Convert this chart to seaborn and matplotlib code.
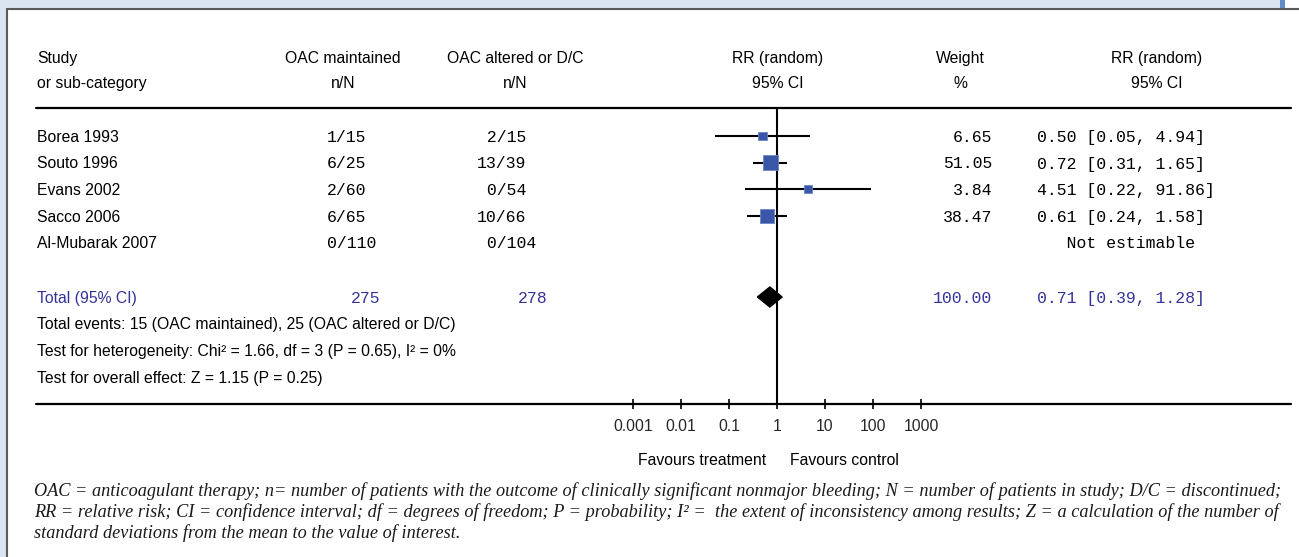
import matplotlib
matplotlib.use("Agg")
import matplotlib.pyplot as plt
import seaborn as sns
import pandas as pd
from matplotlib.patches import Rectangle

# ---------------- data ----------------
studies = ["Borea 1993", "Souto 1996", "Evans 2002", "Sacco 2006", "Al-Mubarak 2007"]
maint_n = [1, 6, 2, 6, 0]
maint_N = [15, 25, 60, 65, 110]
alt_n = [2, 13, 0, 10, 0]
alt_N = [15, 39, 54, 66, 104]
weights = [6.65, 51.05, 3.84, 38.47, None]
rr = [0.50, 0.72, 4.51, 0.61, None]
ci_low = [0.05, 0.31, 0.22, 0.24, None]
ci_high = [4.94, 1.65, 91.86, 1.58, None]
total_maint = 275
total_alt = 278
total_weight = 100.00
total_rr = 0.71
total_low = 0.39
total_high = 1.28
events_maint = 15
events_alt = 25
chi2, het_df, p_het, i2 = 1.66, 3, 0.65, 0
z_val, p_z = 1.15, 0.25
tick_values = [0.001, 0.01, 0.1, 1, 10, 100, 1000]
tick_labels = ["0.001", "0.01", "0.1", "1", "10", "100", "1000"]
footnote = [
    "OAC = anticoagulant therapy; n= number of patients with the outcome of clinically significant nonmajor bleeding; N = number of patients in study; D/C = discontinued;",
    "RR = relative risk; CI = confidence interval; df = degrees of freedom; P = probability; I\u00b2 =  the extent of inconsistency among results; Z = a calculation of the number of",
    "standard deviations from the mean to the value of interest.",
]

# ---------------- layout (pixels) ----------------
W, H = 1299, 557
row_y = [136, 162.5, 189, 216, 242.5]
total_y = 297
info_y = [323, 350, 377]
head_y = [57, 82]
top_line_y, bot_line_y = 108, 404
x_study = 37
x_maint_c, x_alt_c = 343, 515
x_maint_left, x_alt_left = 327, 477
x_rr_c, x_w_c, x_ci_c = 778, 960, 1157
x_w_right = 992
x_ci_left = 1037
ax_x0, ax_x1 = 633, 921  # pixel position of 0.001 and 1000

SANS = "Liberation Sans"
MONO = "Liberation Mono"
SERIF = "Liberation Serif"
BLUE_TXT = "#333399"
SQ_COL = "#3a56a6"

sns.set_theme(style="white")
plt.rcParams["font.family"] = [SANS, "DejaVu Sans"]

fig = plt.figure(figsize=(W / 100, H / 100), dpi=100)
fig.patch.set_facecolor("white")
ax0 = fig.add_axes([0, 0, 1, 1])
ax0.set_xlim(0, W)
ax0.set_ylim(H, 0)
ax0.axis("off")

# frame decoration
ax0.add_patch(Rectangle((0, 0), 1280, 8.5, color="#dbe5f1", lw=0))
ax0.add_patch(Rectangle((0, 0), 7, H, color="#dbe5f1", lw=0))
ax0.add_patch(Rectangle((1280, 0), 5, 8.5, color="#5f8cc8", lw=0))
ax0.plot([7.5, 7.5], [8.5, H], color="#5a5a5a", lw=1.5)
ax0.plot([7.5, W], [8.5, 8.5], color="#5a5a5a", lw=1.5)

# full-width rules
ax0.plot([36, 1291], [top_line_y, top_line_y], color="black", lw=1.6)
ax0.plot([36, 1291], [bot_line_y, bot_line_y], color="black", lw=1.6)

renderer = fig.canvas.get_renderer()

def fit_size(text, family, target, style="normal"):
    t = fig.text(0, 0, text, fontsize=10, family=family, style=style)
    w = t.get_window_extent(renderer).width
    t.remove()
    return 10 * target / w

fs_sans = fit_size("Total events: 15 (OAC maintained), 25 (OAC altered or D/C)", SANS, 418)
fs_foot = fit_size(footnote[0], SERIF, 1247, style="italic")
fs_mono = 11.9

def stxt(x, y, s, ha="left", color="black", fam=SANS, size=None, **kw):
    ax0.text(x, y, s, ha=ha, va="center_baseline", color=color, family=fam,
             fontsize=size if size else (fs_sans if fam == SANS else fs_mono), **kw)

# headers
stxt(x_study, head_y[0], "Study")
stxt(x_study, head_y[1], "or sub-category")
stxt(x_maint_c, head_y[0], "OAC maintained", ha="center")
stxt(x_maint_c, head_y[1], "n/N", ha="center")
stxt(x_alt_c, head_y[0], "OAC altered or D/C", ha="center")
stxt(x_alt_c, head_y[1], "n/N", ha="center")
stxt(x_rr_c, head_y[0], "RR (random)", ha="center")
stxt(x_rr_c, head_y[1], "95% CI", ha="center")
stxt(x_w_c, head_y[0], "Weight", ha="center")
stxt(x_w_c, head_y[1], "%", ha="center")
stxt(x_ci_c, head_y[0], "RR (random)", ha="center")
stxt(x_ci_c, head_y[1], "95% CI", ha="center")

# study rows
for i, name in enumerate(studies):
    y = row_y[i]
    stxt(x_study, y, name)
    stxt(x_maint_left, y, f"{maint_n[i]}/{maint_N[i]}", fam=MONO)
    stxt(x_alt_left, y, f"{alt_n[i]:>2}/{alt_N[i]}", fam=MONO)
    if weights[i] is not None:
        stxt(x_w_right, y, f"{weights[i]:.2f}", ha="right", fam=MONO)
        stxt(x_ci_left, y, f"{rr[i]:.2f} [{ci_low[i]:.2f}, {ci_high[i]:.2f}]", fam=MONO)
    else:
        stxt(x_ci_left, y, "   Not estimable", fam=MONO)

# total row
stxt(x_study, total_y, "Total (95% CI)", color=BLUE_TXT)
stxt(366, total_y, str(total_maint), ha="center", color=BLUE_TXT, fam=MONO)
stxt(533, total_y, str(total_alt), ha="center", color=BLUE_TXT, fam=MONO)
stxt(x_w_right, total_y, f"{total_weight:.2f}", ha="right", color=BLUE_TXT, fam=MONO)
stxt(x_ci_left, total_y, f"{total_rr:.2f} [{total_low:.2f}, {total_high:.2f}]",
     color=BLUE_TXT, fam=MONO)

stxt(x_study, info_y[0], f"Total events: {events_maint} (OAC maintained), {events_alt} (OAC altered or D/C)")
stxt(x_study, info_y[1], f"Test for heterogeneity: Chi\u00b2 = {chi2:.2f}, df = {het_df} (P = {p_het:.2f}), I\u00b2 = {i2}%")
stxt(x_study, info_y[2], f"Test for overall effect: Z = {z_val:.2f} (P = {p_z:.2f})")

# favours labels
stxt(766, 459, "Favours treatment", ha="right")
stxt(790, 459, "Favours control")

# footnote
for k, line in enumerate(footnote):
    ax0.text(34, 489 + 21 * k, line, ha="left", va="center_baseline", family=SERIF,
             style="italic", fontsize=fs_foot, color="#1a1a1a")

# ---------------- forest axis ----------------
ax = fig.add_axes([ax_x0 / W, 1 - bot_line_y / H, (ax_x1 - ax_x0) / W,
                   (bot_line_y - top_line_y) / H])
ax.set_xscale("log")
ax.set_xlim(tick_values[0], tick_values[-1])
ax.set_ylim(bot_line_y, top_line_y)
ax.patch.set_alpha(0)
for sp in ax.spines.values():
    sp.set_visible(False)
ax.set_xticks(tick_values)
ax.set_xticklabels(tick_labels)
ax.xaxis.set_minor_locator(matplotlib.ticker.NullLocator())
ax.tick_params(axis="x", direction="inout", length=7, width=1.2, color="black",
               labelsize=fs_sans, pad=7, bottom=True)
for lab in ax.get_xticklabels():
    lab.set_family(SANS)
ax.set_yticks([])

ax.axvline(1, color="black", lw=1.5, zorder=1)

df = pd.DataFrame({"rr": rr, "lo": ci_low, "hi": ci_high, "w": weights, "y": row_y}).dropna()
ax.hlines(df["y"], df["lo"], df["hi"], color="black", lw=1.5, zorder=2, clip_on=False)
sns.scatterplot(data=df, x="rr", y="y", size="w", sizes=(32, 120),
                size_norm=(min(df["w"]), max(df["w"])), marker="s", color=SQ_COL,
                edgecolor="#6d87c4", linewidth=0.6, legend=False, ax=ax, zorder=3,
                clip_on=False)
ax.set_xlabel("")
ax.set_ylabel("")
ax.fill([total_low, total_rr, total_high, total_rr],
        [total_y, total_y - 10, total_y, total_y + 10], color="black", zorder=3)

fig.savefig("out.png", dpi=100, facecolor="white")
